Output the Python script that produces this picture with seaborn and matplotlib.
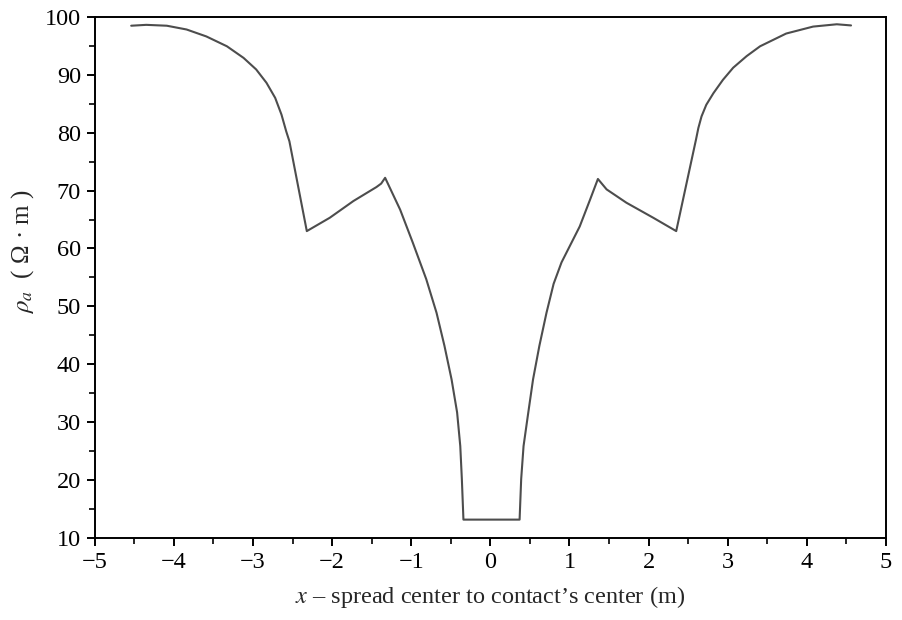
import matplotlib
matplotlib.use("Agg")
import matplotlib.pyplot as plt
import seaborn as sns
import pandas as pd
from matplotlib.ticker import MultipleLocator

# Data
x_vals = [-4.54, -4.35, -4.09, -3.84, -3.59, -3.33, -3.12, -2.96, -2.83,
          -2.72, -2.64, -2.58, -2.54,
          -2.32, -2.03, -1.73, -1.44, -1.38, -1.33,
          -1.14, -0.98, -0.81, -0.68, -0.58, -0.49, -0.42, -0.38, -0.36, -0.34,
          0.00, 0.37,
          0.39, 0.42, 0.48, 0.54, 0.62, 0.71, 0.80, 0.90, 1.13, 1.26, 1.36,
          1.47, 1.72, 2.06, 2.35,
          2.60, 2.63, 2.67, 2.73, 2.82, 2.94, 3.07, 3.24, 3.41, 3.74, 4.08,
          4.38, 4.56]
rho_vals = [98.45, 98.6, 98.45, 97.8, 96.6, 94.9, 92.9, 90.9, 88.6,
            86.0, 83.1, 80.2, 78.5,
            63.0, 65.3, 68.2, 70.6, 71.2, 72.2,
            66.7, 61.0, 54.7, 48.9, 43.2, 37.4, 31.7, 25.9, 20.2, 13.2,
            13.2, 13.2,
            20.2, 25.9, 31.7, 37.4, 43.2, 48.9, 53.9, 57.6, 63.8, 68.4, 72.0,
            70.2, 67.9, 65.3, 63.0,
            78.8, 80.8, 82.8, 84.8, 86.8, 89.1, 91.2, 93.2, 94.9, 97.1, 98.3,
            98.7, 98.5]
x_ticks = [-5, -4, -3, -2, -1, 0, 1, 2, 3, 4, 5]
y_ticks = [10, 20, 30, 40, 50, 60, 70, 80, 90, 100]

df = pd.DataFrame({"x": x_vals, "rho": rho_vals})

sns.set_style("ticks")
plt.rcParams["font.family"] = ["Liberation Serif", "DejaVu Serif"]
plt.rcParams["mathtext.fontset"] = "stix"

fig = plt.figure(figsize=(9.03, 6.2), dpi=100)
ax = fig.add_axes([0.105, 0.132, 0.876, 0.841])

sns.lineplot(data=df, x="x", y="rho", sort=False, estimator=None,
             color="#4d4d4d", linewidth=1.5, ax=ax)

ax.set_xlim(-5, 5)
ax.set_ylim(10, 100)
ax.set_xticks(x_ticks)
ax.set_yticks(y_ticks)
ax.xaxis.set_minor_locator(MultipleLocator(0.5))
ax.yaxis.set_minor_locator(MultipleLocator(5))

for side in ["top", "right", "bottom", "left"]:
    ax.spines[side].set_visible(True)
    ax.spines[side].set_linewidth(1.4)
    ax.spines[side].set_color("black")

ax.tick_params(axis="both", which="major", direction="out", length=6,
               width=1.4, labelsize=17.5, colors="black", pad=4)
ax.tick_params(axis="both", which="minor", direction="out", length=4,
               width=1.2, colors="black")
ax.tick_params(top=False, right=False, which="both")

ax.set_xlabel("$x$ – spread center to contact’s center (m)", fontsize=17.5,
              labelpad=8)
ax.set_ylabel(r"$\boldsymbol{\rho_a}$  ( Ω · m )", fontsize=18)
ax.yaxis.set_label_coords(-0.074, 0.549)

fig.savefig("out.png", dpi=100, facecolor="white")
